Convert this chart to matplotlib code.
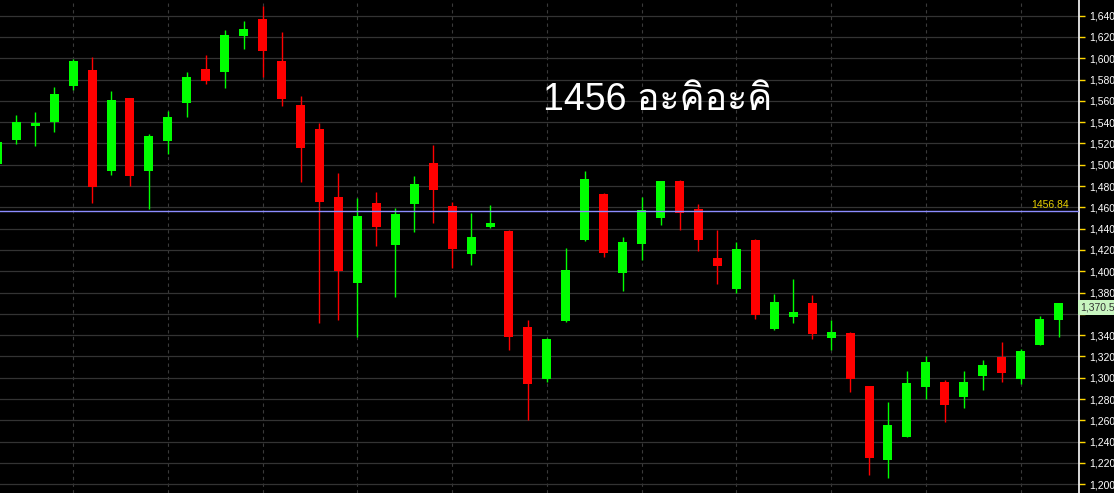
import matplotlib
matplotlib.use("Agg")
import matplotlib.pyplot as plt
from matplotlib import font_manager
from matplotlib.ft2font import FT2Font
from matplotlib.ticker import FuncFormatter

# candles, oldest first (first one is cut off at the left edge)
opens = [1501, 1523.6, 1536.7, 1540.5, 1574.3, 1589.3, 1494.5, 1563.0, 1494.5, 1522.6, 1558.3,
         1590.2, 1587.4, 1621.2, 1637.2, 1597.7, 1556.4, 1533.9, 1470.0, 1389.3, 1464.4,
         1425.0, 1463.5, 1502.0, 1461.6, 1416.5, 1441.9, 1438.1, 1348.0, 1299.2, 1353.6,
         1429.7, 1472.9, 1398.7, 1425.9, 1450.3, 1485.1, 1458.8, 1412.8, 1383.7, 1429.7,
         1346.1, 1357.4, 1370.5, 1337.7, 1342.3, 1292.6, 1223.1, 1244.7, 1291.6, 1296.3,
         1282.3, 1302.0, 1319.8, 1299.2, 1331.1, 1354.6]
highs = [1525, 1547.0, 1549.9, 1573.3, 1599.6, 1601.5, 1569.6, 1563.0, 1529.2, 1550.8, 1587.4,
         1603.4, 1626.9, 1635.3, 1649.4, 1625.0, 1564.9, 1539.5, 1492.6, 1469.1, 1474.7,
         1459.7, 1489.8, 1518.9, 1465.4, 1455.0, 1462.5, 1439.1, 1354.6, 1337.7, 1422.2,
         1494.5, 1473.8, 1432.5, 1470.0, 1485.1, 1486.0, 1463.5, 1439.1, 1427.8, 1430.6,
         1379.0, 1393.1, 1378.0, 1354.6, 1343.3, 1292.6, 1277.6, 1306.7, 1320.8, 1298.2,
         1306.7, 1317.0, 1333.9, 1327.3, 1358.3, 1370.5]
lows = [1498, 1519.8, 1517.9, 1531.1, 1570.5, 1464.4, 1490.7, 1480.4, 1458.8, 1510.4, 1545.2,
        1576.2, 1572.4, 1609.0, 1582.7, 1555.5, 1484.1, 1351.7, 1354.6, 1338.6, 1424.0,
        1376.2, 1437.2, 1445.6, 1403.4, 1406.2, 1440.9, 1326.4, 1260.7, 1296.3, 1352.7,
        1428.7, 1413.7, 1381.8, 1410.9, 1443.8, 1439.1, 1419.3, 1388.4, 1379.9, 1355.5,
        1345.2, 1351.7, 1336.7, 1326.4, 1287.0, 1209.0, 1206.2, 1244.7, 1280.4, 1258.8,
        1271.9, 1288.8, 1296.3, 1294.5, 1331.1, 1338.6]
closes = [1521.7, 1540.5, 1539.5, 1566.8, 1597.7, 1479.4, 1561.1, 1489.8, 1527.3, 1545.2, 1582.7,
          1579.0, 1622.2, 1627.8, 1607.1, 1562.1, 1516.1, 1465.4, 1400.6, 1452.2, 1441.9,
          1454.1, 1482.3, 1476.6, 1421.2, 1432.5, 1445.6, 1338.6, 1294.5, 1336.7, 1401.5,
          1486.9, 1417.5, 1427.8, 1457.8, 1485.1, 1455.0, 1429.7, 1405.3, 1421.2, 1359.2,
          1371.5, 1362.1, 1341.4, 1343.3, 1299.2, 1225.0, 1256.0, 1295.4, 1315.1, 1274.7,
          1296.3, 1312.3, 1304.8, 1325.4, 1355.5, 1370.5]

y_ticks = list(range(1200, 1641, 20))
ref_level = 1456.84
last_price = 1370.5
title = "1456 อะคิอะคิ"

# pick an installed font that can draw Thai, looped styles first (closest to Tahoma)
thai_fonts = set()
for f in font_manager.fontManager.ttflist:
    try:
        if 0x0E2D in FT2Font(f.fname).get_charmap():
            thai_fonts.add(f.name)
    except Exception:
        pass
preferred = ["Loma", "Garuda", "Noto Sans Thai Looped", "IBM Plex Sans Thai Looped", "Tlwg Typo"]
thai_pick = [n for n in preferred if n in thai_fonts][:1] or sorted(thai_fonts)[:1]

fig = plt.figure(figsize=(11.14, 4.93), dpi=100, facecolor="black")
ax = fig.add_axes([0, 0, 1079 / 1114, 1])
ax.set_facecolor("black")

x0 = -1
for i in range(len(opens)):
    x = x0 + i
    o, h, l, c = opens[i], highs[i], lows[i], closes[i]
    col = "#00ff00" if c >= o else "#ff0000"
    ax.vlines(x, l, h, color=col, linewidth=1.0, zorder=3)
    bot = min(o, c)
    height = max(abs(c - o), 0.8)
    ax.bar(x, height, bottom=bot, width=0.475, color=col, linewidth=0, zorder=4)

ax.set_xlim(-0.86, 56.08)
ax.set_ylim(1191.8, 1654.7)

# dashed verticals every 5 bars, solid horizontal grid
for xv in range(3, 56, 5):
    ax.axvline(xv, color="#3a3a3a", linewidth=0.8, linestyle=(0, (3, 3)), zorder=1)
for yv in y_ticks:
    ax.axhline(yv, color="#333333", linewidth=0.9, zorder=1)

ax.axhline(ref_level, color="#8c8cff", linewidth=1.0, zorder=5)
ax.text(1069 / 1079, ref_level + 1, f"{ref_level:.2f}", color="#e8d000", fontsize=7.5,
        family="Liberation Sans", ha="right", va="bottom",
        transform=ax.get_yaxis_transform(), zorder=6)

# the last-price tag sits over the 1,360 label, so leave that one blank
def fmt(v, pos):
    if abs(v - 1360) < 1:
        return ""
    return f"{int(v):,}"

ax.set_xticks([])
ax.set_yticks(y_ticks)
ax.yaxis.tick_right()
ax.yaxis.set_major_formatter(FuncFormatter(fmt))
ax.tick_params(axis="y", colors="#ffd700", length=4, width=1, pad=3,
               labelcolor="white", labelsize=7.5)
for lab in ax.get_yticklabels():
    lab.set_family("Liberation Sans")
for s in ["top", "left", "bottom"]:
    ax.spines[s].set_visible(False)
ax.spines["right"].set_color("white")
ax.spines["right"].set_linewidth(1.2)

ax.text(1.0015, last_price, f"{last_price:,.1f}", color="#333333", fontsize=7.5,
        family="Liberation Sans", ha="left", va="top",
        transform=ax.get_yaxis_transform(), clip_on=False, zorder=10,
        bbox=dict(boxstyle="square,pad=0.25", facecolor="#c8f5c0", edgecolor="none"))

fig.text(543 / 1114, 1 - 110 / 493, title, color="white", fontsize=27,
         family=["Liberation Sans"] + thai_pick, ha="left", va="baseline")

fig.savefig("out.png", dpi=100, facecolor="black")
